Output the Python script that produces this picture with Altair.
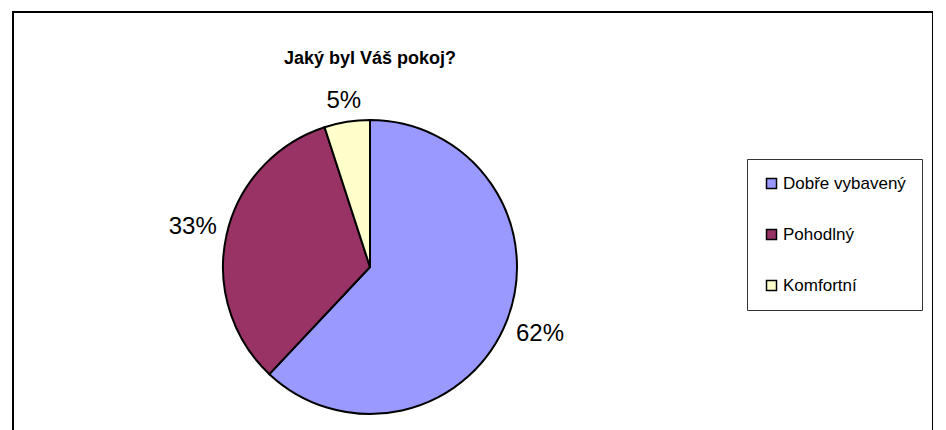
import math
import altair as alt
import pandas as pd

# ---- data ----
title_text = "Jaký byl Váš pokoj?"
categories = ["Dobře vybavený", "Pohodlný", "Komfortní"]
values = [62, 33, 5]
value_labels = ["62%", "33%", "5%"]
colors = ["#9999FF", "#993366", "#FFFFCC"]
order_idx = [0, 1, 2]

# ---- layout ----
VIEW_W, VIEW_H = 920, 440
CX, CY = 357, 255
R = 147
LABEL_FS = 24
LABEL_GAP = 10


def text_width(s, fs):
    w = 0.0
    for ch in s:
        w += 0.889 if ch == "%" else 0.556
    return w * fs


# label angle / distance from centre, Excel-like "outside end" placement
total = sum(values)
cum = 0.0
label_theta = []
label_r = []
for v, s in zip(values, value_labels):
    mid = (cum + v / 2) / total * 2 * math.pi
    cum += v
    ux, uy = abs(math.sin(mid)), abs(math.cos(mid))
    hw, hh = text_width(s, LABEL_FS) / 2, LABEL_FS * 0.45
    ext = min(hw / ux if ux > 1e-6 else 1e9, hh / uy if uy > 1e-6 else 1e9)
    label_theta.append(mid)
    label_r.append(R + LABEL_GAP + ext)

df = pd.DataFrame({
    "kategorie": categories,
    "hodnota": values,
    "popis": value_labels,
    "poradi": order_idx,
    "lab_theta": label_theta,
    "lab_r": label_r,
})

pie = alt.Chart(df).mark_arc(stroke="black", strokeWidth=2, radius=R).encode(
    theta=alt.Theta("hodnota:Q", stack=True),
    order=alt.Order("poradi:Q"),
    color=alt.Color(
        "kategorie:N",
        scale=alt.Scale(domain=categories, range=colors),
        legend=alt.Legend(
            title=None,
            orient="none",
            legendX=734,
            legendY=147,
            padding=16,
            strokeColor="#333333",
            fillColor="white",
            symbolType="square",
            symbolSize=100,
            symbolStrokeColor="black",
            symbolStrokeWidth=1.5,
            symbolOpacity=1,
            labelFont="Liberation Sans",
            labelFontSize=17,
            labelColor="black",
            labelOffset=3,
            labelLimit=300,
            rowPadding=33,
        ),
    ),
    x=alt.value(CX),
    y=alt.value(CY),
)

labels = alt.Chart(df).mark_text(fontSize=LABEL_FS, font="Liberation Sans", color="black").encode(
    text="popis:N",
    theta=alt.Theta("lab_theta:Q", scale=None, stack=None),
    radius=alt.Radius("lab_r:Q", scale=None),
    x=alt.value(CX),
    y=alt.value(CY),
)

title = alt.Chart(pd.DataFrame({"t": [title_text]})).mark_text(
    font="Liberation Sans", fontSize=18, fontWeight="bold", color="black"
).encode(
    text="t:N",
    x=alt.value(CX),
    y=alt.value(47),
)

chart = alt.layer(pie, labels, title).properties(
    width=VIEW_W,
    height=VIEW_H,
    padding={"left": 13, "top": 12, "right": 0, "bottom": 0},
    autosize=alt.AutoSizeParams(type="none"),
    background="white",
).configure_view(
    stroke="black",
    strokeWidth=2,
)

chart.save("out.html", embed_options={"renderer": "svg", "actions": False})
